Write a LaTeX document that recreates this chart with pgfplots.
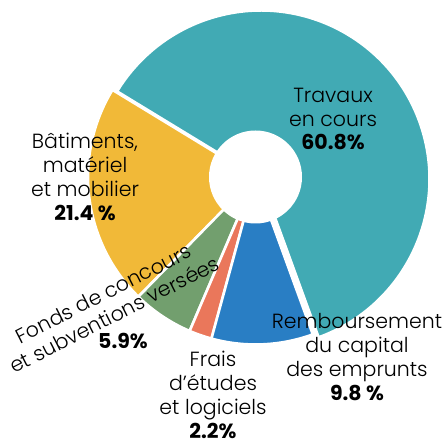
\documentclass[border=0pt]{standalone}
\usepackage{pgfplots}
\pgfplotsset{compat=1.18}
\usepackage{fontspec}
\setmainfont{Poppins}[UprightFont=* Light, BoldFont=* Bold]
\definecolor{cTeal}{RGB}{65,170,180}
\definecolor{cYellow}{RGB}{241,185,56}
\definecolor{cGreen}{RGB}{114,159,110}
\definecolor{cOrange}{RGB}{234,119,91}
\definecolor{cBlue}{RGB}{41,126,196}
% data (percentages)
\def\vTravaux{60.8}
\def\vBatiments{21.4}
\def\vFonds{5.9}
\def\vFrais{2.2}
\def\vRemb{9.8}
% cx cy(from top) R start end colour
\newcommand\slice[6]{%
  \fill[#6, draw=white, line width=2.6pt, line join=miter]
    (axis cs:#1,{441-#2}) -- ++(#4:#3) arc[start angle=#4, end angle=#5, radius=#3] -- cycle;}
\begin{document}
\begin{tikzpicture}
\pgfmathsetmacro\tot{\vTravaux+\vBatiments+\vFonds+\vFrais+\vRemb}
\pgfmathsetmacro\aA{-70}
\pgfmathsetmacro\aB{\aA+\vTravaux/\tot*360}
\pgfmathsetmacro\aC{\aB+\vBatiments/\tot*360}
\pgfmathsetmacro\aD{\aC+\vFonds/\tot*360}
\pgfmathsetmacro\aE{\aD+\vFrais/\tot*360}
\pgfmathsetmacro\aF{\aE+\vRemb/\tot*360}
\begin{axis}[name=ax, hide axis, scale only axis, width=445pt, height=441pt,
  xmin=0, xmax=445, ymin=0, ymax=441, clip=false]
\addplot[draw=none] coordinates {(0,0) (445,441)};
\slice{255.5}{177}{167.5}{\aB}{\aC}{cYellow}
\slice{255.5}{177}{167.5}{\aC}{\aD}{cGreen}
\slice{255.5}{177}{167.5}{\aD}{\aE}{cOrange}
\slice{255.5}{177}{167.5}{\aE}{\aF}{cBlue}
\slice{261}{179}{168.5}{\aA}{\aB}{cTeal}
\fill[white] (axis cs:255.5,{441-177}) circle[radius=46.5pt];
\begin{scope}[every node/.style={inner sep=0pt, align=center, text=black,
   font=\fontsize{20.5}{23.8}\selectfont}]
\node at (axis cs:333,{441-119}) {Travaux\\en cours\\\textbf{60.8\%}};
\node at (axis cs:85,{441-177}) {Bâtiments,\\matériel\\et mobilier\\\textbf{21.4 \%}};
\node at (axis cs:357,{441-357}) {Remboursement\\du capital\\des emprunts\\\textbf{9.8 \%}};
\node at (axis cs:213,{441-395}) {Frais\\d’études\\et logiciels\\\textbf{2.2\%}};
\node[rotate=27] at (axis cs:109,{441-304}) {Fonds de concours\\et subventions versées};
\node at (axis cs:123,{441-341}) {\textbf{5.9\%}};
\end{scope}
\end{axis}
\pgfresetboundingbox
\path (ax.south west) rectangle (ax.north east);
\end{tikzpicture}
\end{document}
